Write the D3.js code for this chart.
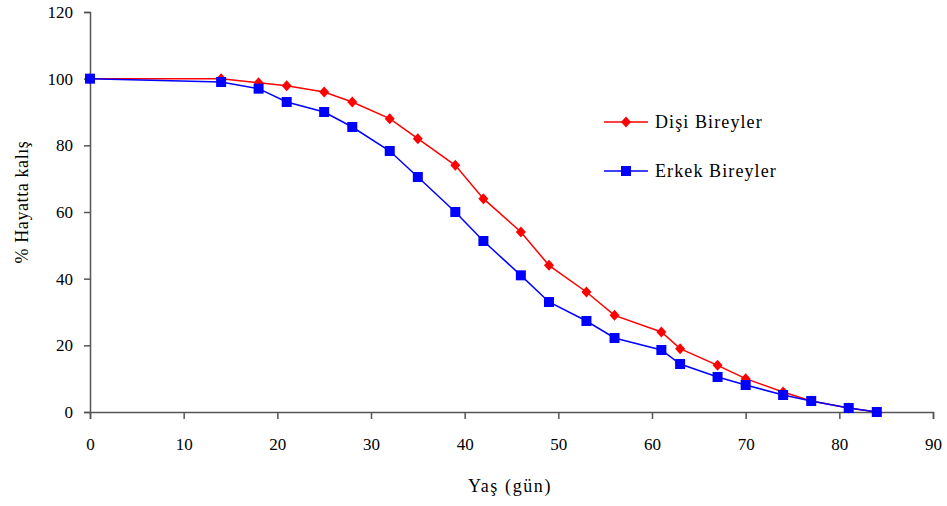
<!DOCTYPE html>
<html><head><meta charset="utf-8">
<script src="https://cdn.jsdelivr.net/npm/d3@7"></script>
<style>body{margin:0;background:#fff}svg{display:block}text{font-family:"Liberation Serif","Times New Roman",serif;fill:#000}</style>
</head><body><svg id="c" width="947" height="506"></svg>
<script>
const xTicks = [0,10,20,30,40,50,60,70,80,90];
const yTicks = [0,20,40,60,80,100,120];
const femaleDays = [0,14,18,21,25,28,32,35,39,42,46,49,53,56,61,63,67,70,74,77,81,84];
const femaleVals = [100,100,98.8,97.9,96,93,88,82,74,64,54,44,36,29,24,19,14,10,6,3.3,1.2,0];
const maleDays = [0,14,18,21,25,28,32,35,39,42,46,49,53,56,61,63,67,70,74,77,81,84];
const maleVals = [100,99,97,93,90,85.5,78.3,70.5,60,51.3,41,33,27.3,22.2,18.6,14.4,10.5,8.1,5.1,3.3,1.2,0];
const seriesNames = ["Dişi Bireyler","Erkek Bireyler"];

const svg = d3.select("#c");
const x = d3.scaleLinear().domain([0,90]).range([90,933]);
const y = d3.scaleLinear().domain([0,120]).range([412,12]);
const axisColor = "#555";

const gy = svg.append("g").attr("transform","translate(90,0)")
  .call(d3.axisLeft(y).tickValues(yTicks).tickSize(6).tickPadding(11));
const gx = svg.append("g").attr("transform","translate(0,412)")
  .call(d3.axisBottom(x).tickValues(xTicks).tickSize(7).tickPadding(19));
[gx,gy].forEach(g=>{
  g.select(".domain").attr("stroke",axisColor).attr("stroke-width",1.5);
  g.selectAll(".tick line").attr("stroke",axisColor).attr("stroke-width",1.5);
  g.selectAll("text").attr("font-size",17).attr("font-family","Liberation Serif").attr("fill","#000");
});

svg.append("text").attr("x",510).attr("y",492).attr("text-anchor","middle").attr("font-size",18).attr("letter-spacing",1.6).text("Yaş (gün)");
svg.append("text").attr("transform","translate(28,202) rotate(-90)").attr("text-anchor","middle").attr("font-size",18).attr("letter-spacing",0.6).text("% Hayatta kalış");

const line = d3.line().x(d=>x(d[0])).y(d=>y(d[1]));
const female = femaleDays.map((d,i)=>[d,femaleVals[i]]);
const male = maleDays.map((d,i)=>[d,maleVals[i]]);
const red = "#ff0000", blue = "#0000ff";

const diamond = (g, cx, cy, c) => g.append("path")
  .attr("d",`M${cx},${cy-5.5}L${cx+5},${cy}L${cx},${cy+5.5}L${cx-5},${cy}Z`).attr("fill",c);
const square = (g, cx, cy, c) => g.append("rect")
  .attr("x",cx-5).attr("y",cy-5).attr("width",10).attr("height",10).attr("fill",c);

const gf = svg.append("g");
gf.append("path").datum(female).attr("d",line).attr("fill","none").attr("stroke",red).attr("stroke-width",1.5);
female.forEach(d=>diamond(gf,x(d[0]),y(d[1]),red));
const gm = svg.append("g");
gm.append("path").datum(male).attr("d",line).attr("fill","none").attr("stroke",blue).attr("stroke-width",1.5);
male.forEach(d=>square(gm,x(d[0]),y(d[1]),blue));

// legend
const lg = svg.append("g");
[[red,122,diamond],[blue,171,square]].forEach(([c,ly,m],i)=>{
  lg.append("line").attr("x1",604).attr("x2",648).attr("y1",ly).attr("y2",ly).attr("stroke",c).attr("stroke-width",1.5);
  m(lg,626,ly,c);
  lg.append("text").attr("x",655).attr("y",ly+6).attr("font-size",18).attr("letter-spacing",1.1).text(seriesNames[i]);
});
</script></body></html>
